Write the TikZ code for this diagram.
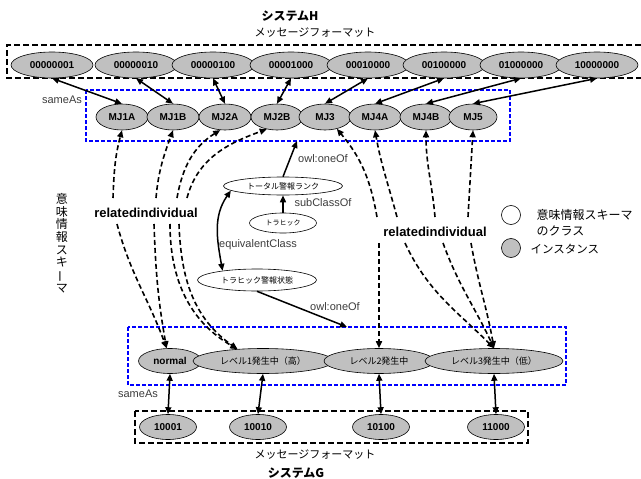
\documentclass[tikz,border=0pt]{standalone}
\usepackage{fontspec}
\setmainfont{Liberation Sans}
\newfontfamily\jp{Noto Sans CJK JP}
\usetikzlibrary{shapes.geometric,arrows.meta}
\definecolor{instgray}{RGB}{192,192,192}
\definecolor{lblgray}{RGB}{60,60,60}
\definecolor{boxblue}{RGB}{0,0,255}
\begin{document}
\begin{tikzpicture}[x=1pt,y=1pt,
  inst/.style={ellipse, draw=black, line width=0.6pt, fill=instgray, inner sep=0pt,
    font=\bfseries\fontsize{10}{12}\selectfont},
  topinst/.style={inst, minimum width=82pt, minimum height=26pt},
  mjinst/.style={inst, minimum width=52pt, minimum height=26pt},
  botinst/.style={inst, minimum width=57pt, minimum height=25pt},
  levinst/.style={inst, minimum height=25pt, font=\jp\fontsize{9}{11}\selectfont},
  cls/.style={ellipse, draw=black, line width=0.6pt, fill=white, inner sep=0pt,
    font=\jp\fontsize{8}{10}\selectfont},
  tip/.tip={Triangle[length=7pt,width=6pt]},
  biarr/.style={line width=1.5pt, tip-tip},
  sarr/.style={line width=1.5pt, -tip},
  rel/.style={line width=1.6pt, dash pattern=on 5pt off 3pt, -tip},
  lbl/.style={text=lblgray, font=\fontsize{11}{13}\selectfont},
  rellbl/.style={font=\bfseries\fontsize{13}{15}\selectfont},
  blackbox/.style={line width=1.8pt, dash pattern=on 6pt off 3pt},
  bluebox/.style={draw=boxblue, line width=1.5pt, dash pattern=on 4pt off 2pt}
]
\useasboundingbox (0,0) rectangle (641,-479);

% titles
\node[font=\jp\bfseries\fontsize{12}{14}\selectfont] (titleH) at (290,-16) {システムH};
\node[font=\jp\fontsize{11}{13}\selectfont] (fmtH) at (315,-33) {メッセージフォーマット};
\node[font=\jp\fontsize{11}{13}\selectfont] (fmtG) at (315,-455) {メッセージフォーマット};
\node[font=\jp\bfseries\fontsize{12}{14}\selectfont] (titleG) at (296,-473) {システムG};

% boxes
\draw[blackbox] (650,-45) -- (7,-45) -- (7,-78) -- (650,-78);
\draw[bluebox] (86,-90) rectangle (510,-141);
\draw[bluebox] (128,-327) rectangle (566,-385);
\draw[blackbox] (135,-411) rectangle (528,-443);

% top instances
\node[topinst] (t1) at (52,-65) {00000001};
\node[topinst] (t2) at (136,-65) {00000010};
\node[topinst] (t3) at (213,-65) {00000100};
\node[topinst] (t4) at (291,-65) {00001000};
\node[topinst] (t5) at (368,-65) {00010000};
\node[topinst] (t6) at (444,-65) {00100000};
\node[topinst] (t7) at (521,-65) {01000000};
\node[topinst] (t8) at (597,-65) {10000000};

% MJ instances
\node[mjinst] (mj1a) at (122,-117) {MJ1A};
\node[mjinst] (mj1b) at (173,-117) {MJ1B};
\node[mjinst] (mj2a) at (225,-117) {MJ2A};
\node[mjinst] (mj2b) at (277,-117) {MJ2B};
\node[mjinst] (mj3) at (325,-117) {MJ3};
\node[mjinst] (mj4a) at (375,-117) {MJ4A};
\node[mjinst] (mj4b) at (426,-117) {MJ4B};
\node[mjinst, minimum width=48pt] (mj5) at (473,-117) {MJ5};

\node[lbl] (same1) at (62,-100) {sameAs};

\draw[biarr] (t1.south) -- (mj1a.north);
\draw[biarr] (t2.south) -- (mj1b.north);
\draw[biarr] (t3.south) -- (mj2a.north);
\draw[biarr] (t4.south) -- (mj2b.north);
\draw[biarr] (t5.south) -- (mj3.north);
\draw[biarr] (t6.south) -- (mj4a.north);
\draw[biarr] (t7.south) -- (mj4b.north);
\draw[biarr] (t8.south) -- (mj5.north);

% classes
\node[cls, minimum width=119pt, minimum height=18pt] (total) at (283,-186) {トータル警報ランク};
\node[cls, minimum width=67pt, minimum height=20pt, font=\jp\fontsize{7}{9}\selectfont] (traffic) at (283,-223) {トラヒック};
\node[cls, minimum width=119pt, minimum height=22pt] (state) at (257,-280) {トラヒック警報状態};

\coordinate (oa) at (297,-141);
\coordinate (ob) at (347,-327);
\draw[sarr] (total.north) -- (oa);
\draw[sarr] (traffic.north) -- (total.south);
\draw[biarr] (total.185) to[out=235,in=100] (state.165);
\draw[sarr] (state.south) -- (ob);

\node[lbl] (oneof1) at (323,-159) {owl:oneOf};
\node[lbl] (subcl) at (323,-203) {subClassOf};
\node[lbl] (equiv) at (258,-245) {equivalentClass};
\node[lbl] (oneof2) at (335,-307) {owl:oneOf};

% vertical label
\node[font=\jp\fontsize{12}{12.7}\selectfont, align=center] (vert) at (62,-243)
  {意\\味\\情\\報\\ス\\キ\\\rotatebox[origin=c]{90}{ー}\\マ};

% legend
\node[circle, draw=black, line width=0.6pt, fill=white, minimum size=19pt, inner sep=0pt] (lc1) at (511,-215) {};
\node[circle, draw=black, line width=0.6pt, fill=instgray, minimum size=19pt, inner sep=0pt] (lc2) at (511,-248) {};
\node[anchor=west, align=left, font=\jp\fontsize{12}{16}\selectfont] (lt1) at (533,-223) {意味情報スキーマ\\のクラス};
\node[anchor=west, font=\jp\fontsize{11.5}{14}\selectfont] (lt2) at (527,-249) {インスタンス};

% bottom level instances
\node[inst, minimum width=63pt, minimum height=25pt] (normal) at (170,-361) {normal};
\node[levinst, minimum width=140pt] (lev1) at (263,-361) {レベル1発生中（高）};
\node[levinst, minimum width=110pt] (lev2) at (379,-361) {レベル2発生中};
\node[levinst, minimum width=138pt] (lev3) at (494,-361) {レベル3発生中（低）};

% bottom message instances
\node[botinst] (g1) at (168,-427) {10001};
\node[botinst] (g2) at (258,-427) {10010};
\node[botinst] (g3) at (381,-427) {10100};
\node[botinst] (g4) at (496,-427) {11000};

\node[lbl] (same2) at (138,-394) {sameAs};

\draw[biarr] (normal.south) -- (g1.north);
\draw[biarr] (lev1.south) -- (g2.north);
\draw[biarr] (lev2.south) -- (g3.north);
\draw[biarr] (lev3.south) -- (g4.north);

% relatedindividual
\node[rellbl] (rel1) at (146,-213) {relatedindividual};
\node[rellbl] (rel2) at (435,-232) {relatedindividual};

\coordinate (a1) at (113,-198); \coordinate (b1) at (117,-224);
\coordinate (a2) at (156,-198); \coordinate (b2) at (154,-224);
\coordinate (a3) at (177,-198); \coordinate (b3) at (170,-224);
\coordinate (a4) at (187,-198); \coordinate (b4) at (179,-224);
\coordinate (a5) at (377,-217); \coordinate (b5) at (379,-243);
\coordinate (a6) at (397,-217); \coordinate (b6) at (405,-243);
\coordinate (a7) at (435,-217); \coordinate (b7) at (443,-243);
\coordinate (a8) at (468,-217); \coordinate (b8) at (471,-243);

\draw[rel] (a1) to[out=88,in=-105] (mj1a.south);
\draw[rel] (b1) to[out=-75,in=110] (normal.105);
\draw[rel] (a2) to[out=85,in=-110] (mj1b.south);
\draw[rel] (b2) to[out=-88,in=100] (normal.105);
\draw[rel] (a3) to[out=80,in=212] (mj2a.250);
\draw[rel] (b3) to[out=-90,in=150] (lev1.155);
\draw[rel] (a4) to[out=75,in=200] (mj2b.230);
\draw[rel] (b4) to[out=-88,in=145] (lev1.155);
\draw[rel] (a5) to[out=100,in=-50] (mj3.-45);
\draw[rel] (b5) -- (lev2.north);
\draw[rel] (a6) to[out=105,in=-80] (mj4a.south);
\draw[rel] (b6) to[out=-65,in=135] (lev3.north);
\draw[rel] (a7) to[out=95,in=-90] (mj4b.south);
\draw[rel] (b7) to[out=-70,in=115] (lev3.north);
\draw[rel] (a8) -- (mj5.south);
\draw[rel] (b8) to[out=-80,in=100] (lev3.north);
\end{tikzpicture}
\end{document}
